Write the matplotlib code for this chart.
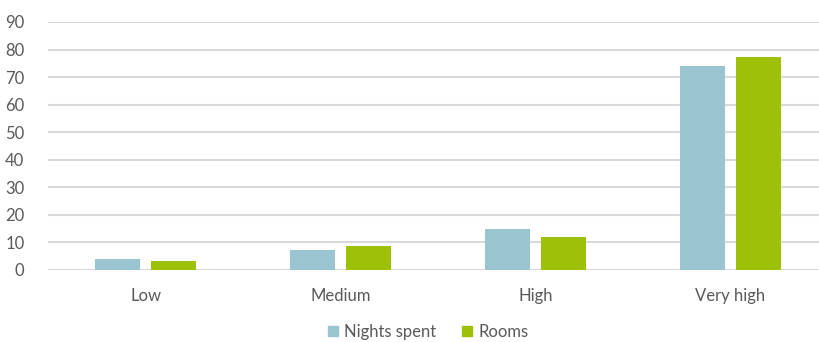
import matplotlib
matplotlib.use("Agg")
import matplotlib.pyplot as plt
import numpy as np
from matplotlib.patches import Patch

categories = ["Low", "Medium", "High", "Very high"]
nights_spent = [4.1, 7.3, 15.0, 74.0]
rooms = [3.3, 8.8, 11.9, 77.2]
yticks = [0, 10, 20, 30, 40, 50, 60, 70, 80, 90]

c_nights = "#9BC4D1"
c_rooms = "#9DC108"
grid_c = "#D9D9D9"
txt_c = "#595959"

plt.rcParams['font.family'] = ['Lato', 'DejaVu Sans']

W, H = 819, 342
fig = plt.figure(figsize=(W/100, H/100), dpi=100)
ax = fig.add_axes([48/W, (H-270)/H, 780/W, 248/H])

x = np.arange(len(categories))
bw = 0.226
off = 0.1436
ax.bar(x - off, nights_spent, bw, color=c_nights, zorder=3)
ax.bar(x + off, rooms, bw, color=c_rooms, zorder=3)

ax.set_xlim(-0.5, 3.5)
ax.set_ylim(0, 90)
ax.set_yticks(yticks)
ax.set_xticks(x)
ax.set_xticklabels(categories)
for t in yticks:
    ax.axhline(t, color=grid_c, lw=1.5, zorder=1)
for s in ax.spines.values():
    s.set_visible(False)
ax.tick_params(axis='both', length=0, colors=txt_c, labelsize=12)
ax.tick_params(axis='y', pad=17)
ax.tick_params(axis='x', pad=13)

handles = [Patch(color=c_nights, label="Nights spent"), Patch(color=c_rooms, label="Rooms")]
leg = fig.legend(handles=handles, loc='center', bbox_to_anchor=(428/W, (H-332)/H), ncol=2,
                 frameon=False, fontsize=12, handlelength=0.6, handleheight=0.6,
                 handletextpad=0.4, columnspacing=1.5, borderpad=0.1)
for t in leg.get_texts():
    t.set_color(txt_c)

fig.savefig("out.png", dpi=100)
